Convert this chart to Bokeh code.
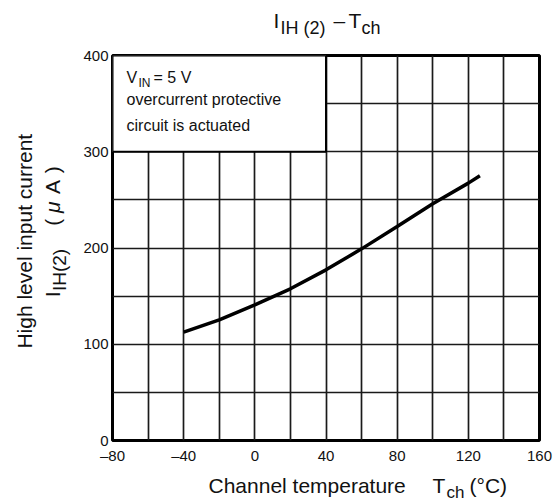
import math
from bokeh.plotting import figure
from bokeh.models import Label, SingleIntervalTicker, FixedTicker, Range1d
from bokeh.layouts import column, row
from bokeh.embed import file_html
from bokeh.resources import INLINE

# ---- data ----
temp_c = [-40, -20, 0, 20, 40, 60, 80, 100, 120, 126.5]
ih2_ua = [112.5, 125.4, 141.0, 157.6, 177.3, 199.1, 222.3, 245.9, 267.4, 275.0]
x_ticks = [-80, -40, 0, 40, 80, 120, 160]
x_tick_labels = ["–80", "–40", "0", "40", "80", "120", "160"]
y_ticks = [0, 100, 200, 300, 400]
note_x = [-80, 40]
note_y = [300, 400]
note_lines = ["overcurrent protective", "circuit is actuated"]

FONT = "Liberation Sans"
INK = "#111111"

# page layout (px)
W, H = 558, 504
TITLE_H, XLAB_H = 45, 34
YLAB_W = 76
MAIN_W, MAIN_H = W - YLAB_W, H - TITLE_H - XLAB_H
ML, MR, MT, MB = 36, 19, 10, 30
X0, X1 = -80, 160
Y0, Y1 = 0, 400

# ---------------- main chart ----------------
p = figure(width=MAIN_W, height=MAIN_H, x_range=Range1d(X0, X1), y_range=Range1d(Y0, Y1),
           output_backend="svg", toolbar_location=None,
           min_border_left=ML, min_border_right=MR, min_border_top=MT, min_border_bottom=MB)
p.title.visible = False
p.background_fill_color = "white"
p.border_fill_color = "white"

p.xgrid.ticker = SingleIntervalTicker(interval=20)
p.ygrid.ticker = SingleIntervalTicker(interval=50)
for g in (p.xgrid, p.ygrid):
    g.grid_line_color = "#1a1a1a"
    g.grid_line_width = 1.7
    g.grid_line_alpha = 1.0

p.outline_line_color = "black"
p.outline_line_width = 3
p.outline_line_alpha = 1.0

p.xaxis.ticker = FixedTicker(ticks=x_ticks)
p.xaxis.major_label_overrides = {t: s for t, s in zip(x_ticks, x_tick_labels)}
p.yaxis.ticker = FixedTicker(ticks=y_ticks)
for ax in (p.xaxis, p.yaxis):
    ax.axis_line_color = None
    ax.major_tick_line_color = None
    ax.minor_tick_line_color = None
    ax.major_tick_out = 0
    ax.major_tick_in = 0
    ax.major_label_text_font = FONT
    ax.major_label_text_font_size = "15px"
    ax.major_label_text_color = INK
p.xaxis.major_label_standoff = 6
p.yaxis.major_label_standoff = 4

p.quad(left=[note_x[0]], right=[note_x[1]], bottom=[note_y[0]], top=[note_y[1]],
       fill_color="white", line_color="black", line_width=2)

p.line(temp_c, ih2_ua, line_width=3.5, line_color="black")

SHIFT = 0.37  # empirical baseline correction, in em

# frame position in page px, for the note text
FL, FR = YLAB_W + ML, W - MR
FT, FB = TITLE_H + MT, TITLE_H + MAIN_H - MB

def dx(xp):
    return X0 + (xp - FL) * (X1 - X0) / (FR - FL)

def dy(yp):
    return Y0 + (FB - yp) * (Y1 - Y0) / (FB - FT)

def note(xp, yp, text, size):
    yp = yp - SHIFT * size
    p.add_layout(Label(x=dx(xp), y=dy(yp), text=text, text_font=FONT,
                       text_font_size=f"{size}px", text_color=INK,
                       text_align="left", text_baseline="alphabetic"))

note(126, 83, "V", 16)
note(138, 87, "IN", 12)
note(153, 83, "= 5 V", 16)
note(126, 105, note_lines[0], 16)
note(126, 131, note_lines[1], 16)

# ---------------- text panels (1 data unit = 1 px, y upwards) ----------------
def text_fig(w, h):
    f = figure(width=w, height=h, x_range=Range1d(0, w), y_range=Range1d(0, h),
               x_axis_type=None, y_axis_type=None, output_backend="svg",
               toolbar_location=None, min_border=0)
    f.title.visible = False
    f.outline_line_color = None
    f.background_fill_color = "white"
    f.border_fill_color = "white"
    return f

def lab(f, ox, oy, h, xp, yp, text, size, angle=0.0, style="normal", align="left"):
    if angle == 0.0:
        yp = yp - SHIFT * size
    else:
        xp = xp - SHIFT * size
    f.add_layout(Label(x=xp - ox, y=h - (yp - oy), text=text, text_font=FONT,
                       text_font_size=f"{size}px", text_font_style=style, text_color=INK,
                       text_align=align, text_baseline="alphabetic", angle=angle))

# title  I_IH (2) – T_ch
t = text_fig(W, TITLE_H)
lab(t, 0, 0, TITLE_H, 273, 28, "I", 21)
lab(t, 0, 0, TITLE_H, 280, 34, "IH (2)", 18)
lab(t, 0, 0, TITLE_H, 333, 28, "–", 21)
lab(t, 0, 0, TITLE_H, 348, 28, "T", 21)
lab(t, 0, 0, TITLE_H, 361, 34, "ch", 18)

# y axis label (rotated, reads bottom to top)
A = math.pi / 2
yl = text_fig(YLAB_W, MAIN_H)
oy = TITLE_H
lab(yl, 0, oy, MAIN_H, 32, 250, "High level input current", 21, angle=A, align="center")
lab(yl, 0, oy, MAIN_H, 60, 312, "I", 21, angle=A)
lab(yl, 0, oy, MAIN_H, 66, 305, "IH(2)", 19, angle=A)
lab(yl, 0, oy, MAIN_H, 60, 233, "(", 21, angle=A)
lab(yl, 0, oy, MAIN_H, 60, 219, "μ", 21, angle=A, style="italic")
lab(yl, 0, oy, MAIN_H, 60, 198, "A", 21, angle=A)
lab(yl, 0, oy, MAIN_H, 60, 175, ")", 21, angle=A)

# x axis label
xl = text_fig(W, XLAB_H)
oy = TITLE_H + MAIN_H
lab(xl, 0, oy, XLAB_H, 208, 493, "Channel temperature", 21)
lab(xl, 0, oy, XLAB_H, 432, 493, "T", 21)
lab(xl, 0, oy, XLAB_H, 446, 498, "ch", 17)
lab(xl, 0, oy, XLAB_H, 469, 493, "(°C)", 21)

layout = column(t, row(yl, p, spacing=0), xl, spacing=0)
open("out.html", "w").write(file_html(layout, INLINE))
